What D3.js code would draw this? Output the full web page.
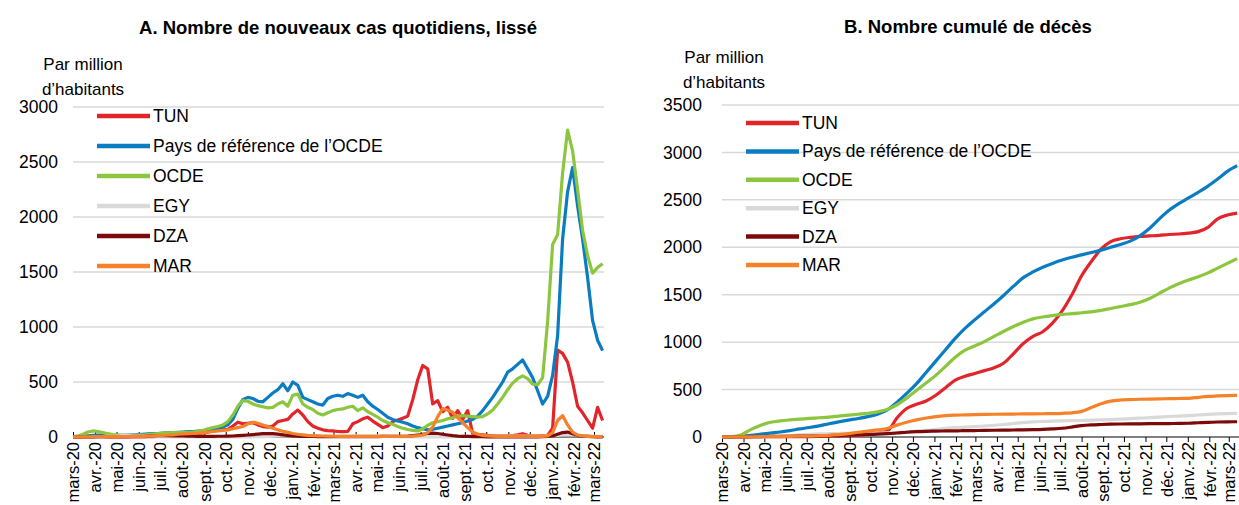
<!DOCTYPE html>
<html>
<head>
<meta charset="utf-8">
<script src="https://cdn.jsdelivr.net/npm/d3@7"></script>
<style>
  body { margin: 0; background: #fff; }
  svg { display: block; }
  text { font-family: "Liberation Sans", Arial, sans-serif; fill: #000; }
</style>
</head>
<body>
<div id="chart"></div>
<script>
// Series names and colours (legend order)
const seriesNames = ["TUN", "Pays de référence de l’OCDE", "OCDE", "EGY", "DZA", "MAR"];
const seriesColors = ["#e1252b", "#0a7cc1", "#8cc63f", "#d9d9d9", "#7d0a0a", "#f5822a"];

// Month tick labels shared by both panels
const monthLabels = ["mars-20", "avr.-20", "mai-20", "juin-20", "juil.-20", "août-20", "sept.-20", "oct.-20",
  "nov.-20", "déc.-20", "janv.-21", "févr.-21", "mars-21", "avr.-21", "mai-21", "juin-21", "juil.-21",
  "août-21", "sept.-21", "oct.-21", "nov.-21", "déc.-21", "janv.-22", "févr.-22", "mars-22"];

const startDate = new Date(2020, 2, 1);
const endDate = new Date(2022, 2, 15);

// Panel A: weekly points from 1 March 2020 (smoothed new daily cases per million)
const weeksA = d3.range(107).map(i => d3.timeDay.offset(startDate, 7 * i));
const casesTUN = [0,0,1,2,3,3,3,2,1,1,
  1,1,1,1,2,3,4,5,8,10,
  12,15,18,20,25,30,38,45,55,60,
  65,70,100,135,120,125,130,110,95,90,
  100,140,150,160,210,245,200,140,100,80,
  65,58,55,50,48,50,120,140,165,180,
  145,115,85,100,140,155,170,190,340,520,
  650,620,300,330,230,270,170,240,160,240,
  30,25,20,15,12,10,10,10,12,20,
  30,15,10,10,12,15,80,790,760,680,
  500,280,220,150,80,270,150];
const casesRef = [0,2,5,10,15,18,18,17,15,15,
  16,18,20,22,25,28,30,32,35,38,
  40,42,45,48,50,53,55,58,65,75,
  90,110,160,260,340,360,350,325,320,360,
  400,430,485,420,500,470,360,340,320,300,
  290,350,370,380,370,395,380,360,380,320,
  280,250,215,180,160,145,135,120,100,85,
  75,65,70,80,90,100,110,120,130,145,
  160,190,240,300,360,430,500,590,620,660,
  700,620,540,420,300,370,560,920,1800,2230,
  2450,2100,1800,1450,1060,880,785];
const casesOCDE = [2,10,25,45,55,50,40,30,22,18,
  15,14,14,15,18,22,26,30,35,38,
  40,40,40,42,45,52,60,75,85,95,
  110,140,200,280,330,325,300,285,275,265,
  270,300,320,280,380,390,300,270,250,215,
  200,220,240,250,255,270,280,240,265,230,
  205,180,150,130,115,95,80,68,60,55,
  75,105,130,140,150,165,175,190,195,190,
  185,180,185,210,245,300,360,430,490,530,
  555,530,480,475,540,1050,1750,1840,2400,2790,
  2600,2250,1880,1650,1490,1540,1575];
const casesEGY = [0,0,0,1,1,2,3,5,7,9,
  12,14,15,14,12,9,6,4,2,2,
  1,1,1,1,1,1,1,1,1,1,
  1,1,1,1,1,1,2,3,4,5,
  7,9,11,12,13,13,12,10,8,7,
  6,6,6,7,8,9,10,10,11,11,
  11,10,8,6,4,3,2,2,2,2,
  2,2,2,2,2,2,3,4,5,6,
  6,7,7,7,8,8,8,9,9,9,
  9,9,9,9,9,10,12,15,18,19,
  18,16,13,10,8,6,5];
const casesDZA = [0,0,0,1,2,3,3,3,3,3,
  3,4,5,5,6,8,10,12,13,12,
  11,10,9,8,7,6,6,6,6,7,
  7,8,9,12,15,18,22,26,30,32,
  30,26,20,15,10,8,6,5,5,4,
  4,4,4,3,3,3,3,3,3,3,
  4,4,5,5,5,6,6,8,12,18,
  25,32,35,32,25,18,12,8,6,5,
  4,3,3,2,2,2,2,2,2,2,
  2,2,2,2,3,5,10,25,40,45,
  30,15,8,5,3,2,2];
const casesMAR = [0,0,1,2,3,4,4,4,3,3,
  3,3,4,5,6,8,10,12,15,18,
  20,25,28,30,32,35,40,45,50,55,
  60,65,75,85,95,120,135,125,110,95,
  80,65,52,42,32,25,20,15,12,10,
  9,8,7,6,5,5,5,5,5,5,
  5,5,5,5,5,5,5,6,8,12,
  18,40,90,185,258,245,225,175,130,85,
  45,25,15,10,8,6,5,5,5,5,
  5,5,5,5,6,10,40,150,195,110,
  45,18,10,6,4,3,3];

// Panel B: fortnightly points from 1 March 2020 (cumulative deaths per million)
const fortnightsB = d3.range(54).map(i => d3.timeDay.offset(startDate, 14 * i));
const deathsTUN = [0,0,1,2,4,4,4,4,4,5,
  6,8,10,15,20,28,40,60,200,300,
  345,380,440,520,600,640,670,700,730,780,
  880,985,1060,1110,1200,1330,1500,1700,1850,1980,
  2060,2090,2105,2115,2120,2125,2135,2140,2150,2165,
  2210,2300,2340,2360];
const deathsRef = [0,2,8,18,30,42,53,68,85,100,
  118,140,160,178,195,215,240,285,365,460,
  560,680,800,920,1040,1145,1235,1320,1405,1495,
  1590,1680,1740,1790,1830,1865,1895,1920,1945,1970,
  2000,2030,2065,2120,2200,2300,2390,2460,2520,2580,
  2645,2720,2800,2860];
const deathsOCDE = [0,3,25,80,125,155,170,180,188,196,
  203,210,220,230,240,250,265,290,340,410,
  490,570,650,745,840,915,960,1005,1060,1115,
  1165,1210,1245,1265,1280,1292,1300,1310,1320,1335,
  1355,1375,1395,1420,1460,1515,1570,1615,1655,1690,
  1730,1780,1830,1880];
const deathsEGY = [0,0,0,1,2,4,8,14,22,28,
  32,35,37,38,40,41,42,44,48,55,
  62,70,80,90,98,104,110,116,124,132,
  142,152,160,164,167,170,172,174,177,180,
  184,188,193,198,204,210,216,221,226,232,
  238,243,247,250];
const deathsDZA = [0,0,1,3,5,6,7,8,9,10,
  12,15,18,22,25,27,30,35,42,50,
  56,60,62,64,65,67,68,70,71,72,
  74,75,77,80,85,92,105,120,128,132,
  135,137,138,139,140,141,142,143,145,150,
  155,158,160,161];
const deathsMAR = [0,0,1,2,3,4,5,6,8,10,
  14,18,25,35,50,62,75,90,125,155,
  180,200,215,225,230,233,236,238,240,241,
  242,243,244,245,247,250,255,270,310,350,
  378,390,395,398,400,402,404,406,408,418,
  428,433,437,440];

const yTicksA = [0, 500, 1000, 1500, 2000, 2500, 3000];
const yTicksB = [0, 500, 1000, 1500, 2000, 2500, 3000, 3500];

const W = 1239, H = 505;
const svg = d3.select("#chart").append("svg")
  .attr("width", W)
  .attr("height", H);

const monthTicks = d3.timeMonth.range(startDate, new Date(2022, 2, 2));

function drawPanel(p) {
  const x = d3.scaleTime().domain([startDate, endDate]).range([p.left, p.right]);
  const y = d3.scaleLinear().domain([0, p.yMax]).range([p.bottom, p.top]);
  const g = svg.append("g");

  // title
  g.append("text")
    .attr("x", p.titleX).attr("y", p.titleY)
    .attr("text-anchor", "middle")
    .style("font-size", "18.5px").style("font-weight", "bold")
    .text(p.title);

  // unit label
  g.append("text").attr("x", p.unitX).attr("y", p.unitY).attr("text-anchor", "middle")
    .style("font-size", "17px").text("Par million");
  g.append("text").attr("x", p.unitX).attr("y", p.unitY + 25).attr("text-anchor", "middle")
    .style("font-size", "17px").text("d’habitants");

  // gridlines
  g.selectAll(".grid").data(p.yTicks.filter(d => d > 0)).enter().append("line")
    .attr("x1", p.left).attr("x2", p.gridRight)
    .attr("y1", d => y(d)).attr("y2", d => y(d))
    .attr("stroke", "#d9d9d9").attr("stroke-width", 1.5);

  // y axis labels (no thousands separator)
  const yAxis = g.append("g")
    .attr("transform", `translate(${p.yLabelX},0)`)
    .call(d3.axisLeft(y).tickValues(p.yTicks).tickSize(0).tickPadding(0).tickFormat(d3.format("d")));
  yAxis.select(".domain").remove();
  yAxis.selectAll("text")
    .style("font-size", "17.5px")
    .style("font-family", "\"Liberation Sans\", Arial, sans-serif")
    .attr("fill", "#000");

  // x axis
  const xAxis = g.append("g")
    .attr("transform", `translate(0,${p.bottom})`)
    .call(d3.axisBottom(x).tickValues(monthTicks).tickSize(p.tickLen)
      .tickFormat((d, i) => monthLabels[i]));
  xAxis.select(".domain").attr("stroke", "#000").attr("d", `M${p.left},0H${p.gridRight}`);
  xAxis.selectAll(".tick line").attr("stroke", "#000");
  xAxis.selectAll("text")
    .attr("transform", "rotate(-90)")
    .attr("x", -5).attr("y", 0).attr("dy", "0.35em")
    .attr("text-anchor", "end")
    .attr("fill", "#000")
    .style("font-size", "16.5px")
    .style("font-family", "\"Liberation Sans\", Arial, sans-serif");

  // series lines, legend order with later series on top
  const line = d3.line()
    .x((d, i) => x(p.dates[i]))
    .y(d => y(d))
    .curve(p.curve);
  p.series.forEach((vals, k) => {
    g.append("path")
      .datum(vals)
      .attr("fill", "none")
      .attr("stroke", seriesColors[k])
      .attr("stroke-width", 3.2)
      .attr("stroke-linejoin", "round")
      .attr("d", line);
  });

  // legend
  const leg = g.append("g");
  seriesNames.forEach((name, k) => {
    const ly = p.legendY + k * p.legendStep;
    leg.append("line")
      .attr("x1", p.legendX).attr("x2", p.legendX + 53)
      .attr("y1", ly).attr("y2", ly)
      .attr("stroke", seriesColors[k]).attr("stroke-width", 4.5);
    leg.append("text")
      .attr("x", p.legendX + 56).attr("y", ly + 6)
      .style("font-size", "17.5px")
      .text(name);
  });
}

drawPanel({
  title: "A. Nombre de nouveaux cas quotidiens, lissé", titleX: 338, titleY: 34,
  unitX: 83, unitY: 70,
  left: 73, right: 604, gridRight: 604, top: 107, bottom: 437, yMax: 3000, yTicks: yTicksA,
  yLabelX: 58, tickLen: -5,
  dates: weeksA, series: [casesTUN, casesRef, casesOCDE, casesEGY, casesDZA, casesMAR],
  curve: d3.curveLinear,
  legendX: 97, legendY: 116, legendStep: 30
});

drawPanel({
  title: "B. Nombre cumulé de décès", titleX: 968, titleY: 33,
  unitX: 724, unitY: 63,
  left: 722, right: 1238.5, gridRight: 1239, top: 105, bottom: 437, yMax: 3500, yTicks: yTicksB,
  yLabelX: 702, tickLen: 5,
  dates: fortnightsB, series: [deathsTUN, deathsRef, deathsOCDE, deathsEGY, deathsDZA, deathsMAR],
  curve: d3.curveMonotoneX,
  legendX: 746, legendY: 123, legendStep: 28.4
});
</script>
</body>
</html>
